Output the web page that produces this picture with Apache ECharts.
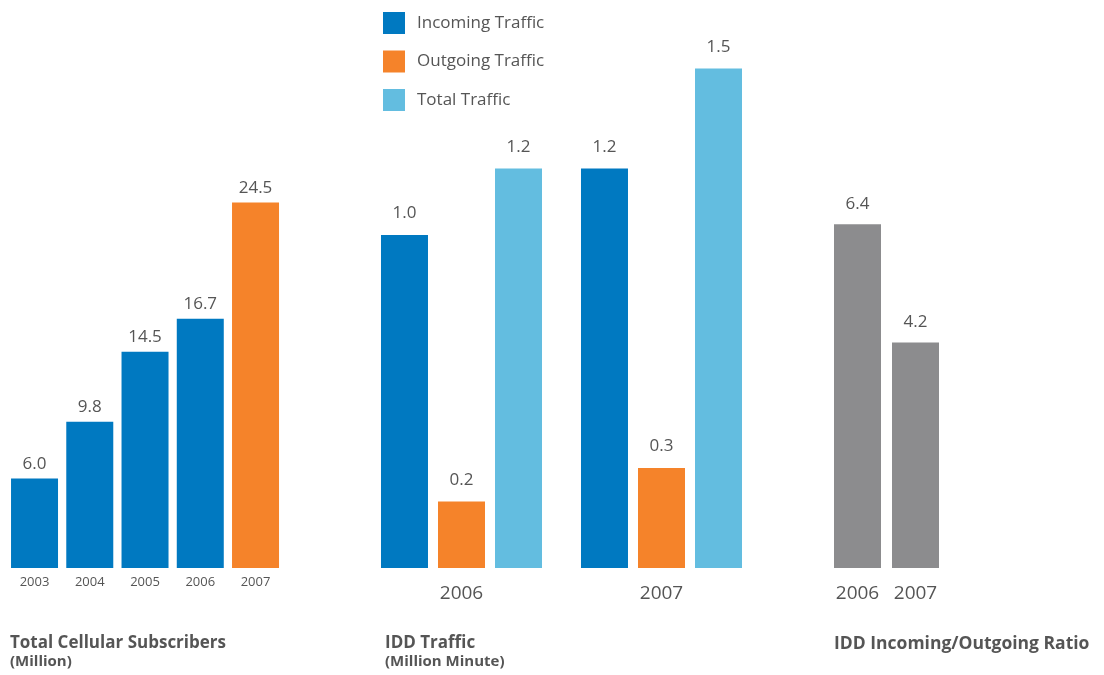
<!DOCTYPE html>
<html><head><meta charset="utf-8">
<script src="https://cdn.jsdelivr.net/npm/echarts@6/dist/echarts.min.js"></script>
<style>html,body{margin:0;padding:0;background:#fff}#c{width:1104px;height:675px}</style>
</head><body><div id="c"></div>
<script>
// Chart 1: Total Cellular Subscribers (Million)
const subYears = ['2003','2004','2005','2006','2007'];
const subValues = [6.0, 9.8, 14.5, 16.7, 24.5];
// Chart 2: IDD Traffic (Million Minute)
const trafficYears = ['2006','2007'];
const incoming = [1.0, 1.2];
const outgoing = [0.2, 0.3];
const total = [1.2, 1.5];
// Chart 3: IDD Incoming/Outgoing Ratio
const ratioYears = ['2006','2007'];
const ratioValues = [6.4, 4.2];

const BLUE = '#0079c1', ORANGE = '#f5832a', LBLUE = '#63bde0', GRAY = '#8c8c8e', TXT = '#555555';
const FONT = '"Open Sans", "Noto Sans", sans-serif';

const chart = echarts.init(document.getElementById('c'));
const hiddenY = (idx, max) => ({type:'value', gridIndex:idx, min:0, max:max, show:false, splitLine:{show:false}});
const catX = (idx, data, fs, margin) => ({type:'category', gridIndex:idx, data:data,
  axisLine:{show:false}, axisTick:{show:false},
  axisLabel:{color:TXT, fontSize:fs, fontFamily:FONT, margin:margin}});
const lbl = d => ({show:true, position:'top', distance:d, color:TXT, fontSize:17, fontFamily:FONT, formatter:p=>p.value.toFixed(1)});

chart.setOption({
  animation:false,
  backgroundColor:'#fff',
  grid:[
    {left:6.9, width:276.25, top:68, height:500},
    {left:361.5, width:400, top:68, height:500},
    {left:828.5, width:116, top:68, height:500}
  ],
  xAxis:[catX(0, subYears, 13, 8), catX(1, trafficYears, 19, 16), catX(2, ratioYears, 19, 16)],
  yAxis:[hiddenY(0, 500/14.92), hiddenY(1, 500/333), hiddenY(2, 500/53.7)],
  legend:{orient:'vertical', left:378, top:7, itemWidth:22, itemHeight:22, itemGap:16.5,
    icon:'rect', textStyle:{color:TXT, fontSize:17, fontFamily:FONT, padding:[0,0,0,7]},
    data:['Incoming Traffic','Outgoing Traffic','Total Traffic']},
  series:[
    {type:'bar', xAxisIndex:0, yAxisIndex:0, barWidth:47, label:lbl(6),
     data:subValues.map((v,i)=>({value:v, itemStyle:{color: i===subValues.length-1 ? ORANGE : BLUE}}))},
    {name:'Incoming Traffic', type:'bar', xAxisIndex:1, yAxisIndex:1, barWidth:47, barGap:'21.3%', itemStyle:{color:BLUE}, label:lbl(13), data:incoming},
    {name:'Outgoing Traffic', type:'bar', xAxisIndex:1, yAxisIndex:1, barWidth:47, barGap:'21.3%', itemStyle:{color:ORANGE}, label:lbl(13), data:outgoing},
    {name:'Total Traffic', type:'bar', xAxisIndex:1, yAxisIndex:1, barWidth:47, barGap:'21.3%', itemStyle:{color:LBLUE}, label:lbl(13), data:total},
    {type:'bar', xAxisIndex:2, yAxisIndex:2, barWidth:47, itemStyle:{color:GRAY}, label:lbl(12), data:ratioValues}
  ],
  graphic:[
    {type:'text', left:10, top:635, style:{text:'Total Cellular Subscribers', fill:TXT, font:'bold 17px '+FONT}},
    {type:'text', left:10, top:654, style:{text:'(Million)', fill:TXT, font:'bold 15px '+FONT}},
    {type:'text', left:385, top:635, style:{text:'IDD Traffic', fill:TXT, font:'bold 17px '+FONT}},
    {type:'text', left:385, top:654, style:{text:'(Million Minute)', fill:TXT, font:'bold 15px '+FONT}},
    {type:'text', left:834, top:635, style:{text:'IDD Incoming/Outgoing Ratio', fill:TXT, font:'bold 17.5px '+FONT}}
  ]
});
</script></body></html>
